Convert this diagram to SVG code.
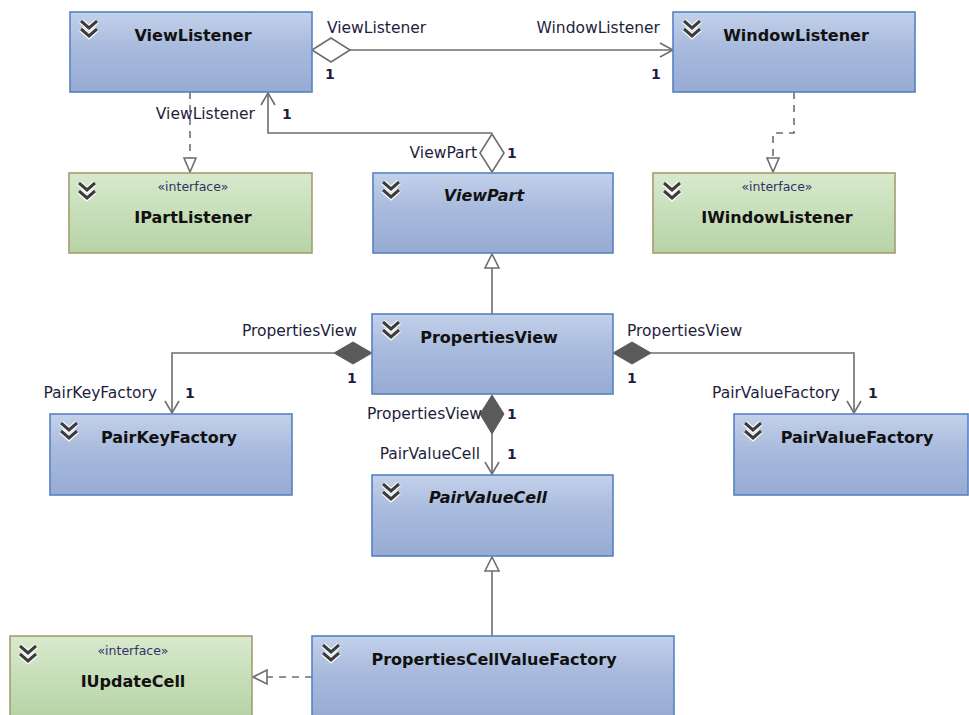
<svg xmlns="http://www.w3.org/2000/svg" width="969" height="715" viewBox="0 0 969 715">
<defs>
<linearGradient id="gBlue" x1="0" y1="0" x2="0" y2="1">
<stop offset="0" stop-color="#c3d1ea"/>
<stop offset="0.45" stop-color="#a8badd"/>
<stop offset="1" stop-color="#97abd3"/>
</linearGradient>
<linearGradient id="gGreen" x1="0" y1="0" x2="0" y2="1">
<stop offset="0" stop-color="#d8eacd"/>
<stop offset="1" stop-color="#b6d3a5"/>
</linearGradient>
<g id="chev">
<path d="M0,0 L8,7 L16,0 M0,8 L8,15 L16,8" fill="none" stroke="#ffffff" stroke-width="5.5"/>
<path d="M0,0 L8,7 L16,0 M0,8 L8,15 L16,8" fill="none" stroke="#3c3c3c" stroke-width="3"/>
</g>
</defs>
<style>
.blue{fill:url(#gBlue);stroke:#5582c2;stroke-width:1.6}
.green{fill:url(#gGreen);stroke:#a39d72;stroke-width:1.6}
.title{font-family:"DejaVu Sans",sans-serif;font-weight:bold;font-size:16px;fill:#111111;text-anchor:middle}
.it{font-style:italic}
.stereo{font-family:"DejaVu Sans",sans-serif;font-size:12.5px;fill:#333366;text-anchor:middle}
.lbl{font-family:"DejaVu Sans",sans-serif;font-size:15.5px;fill:#1e1e3c}
.num{font-family:"DejaVu Sans",sans-serif;font-size:14px;font-weight:bold;fill:#1e1e3c}
.ln{fill:none;stroke:#6e6e6e;stroke-width:1.6}
.dash{fill:none;stroke:#6e6e6e;stroke-width:1.6;stroke-dasharray:7,6}
.hollow{fill:#ffffff;stroke:#6e6e6e;stroke-width:1.6}
.solid{fill:#5a5a5a;stroke:#5a5a5a;stroke-width:1}
</style>
<rect width="969" height="715" fill="#ffffff"/>

<g id="connectors">
<!-- ViewListener - WindowListener -->
<path class="ln" d="M350,50 L673,50"/>
<polygon class="hollow" points="312,50 331,38 350,50 331,62"/>
<path class="ln" d="M660,43 L673,50 L660,57"/>
<!-- ViewListener realizes IPartListener -->
<path class="dash" d="M190,92 L190,158"/>
<polygon class="hollow" points="190,172 184,158 196,158"/>
<!-- ViewPart -> ViewListener -->
<path class="ln" d="M492,133 L268,133 L268,93"/>
<path class="ln" d="M261,105 L268,93 L275,105"/>
<polygon class="hollow" points="492,134 504,153 492,172 480,153"/>
<!-- WindowListener realizes IWindowListener -->
<path class="dash" d="M794,92 L794,133 L773,133 L773,158"/>
<polygon class="hollow" points="773,172 767,158 779,158"/>
<!-- PropertiesView -> ViewPart generalization -->
<path class="ln" d="M492,314 L492,268"/>
<polygon class="hollow" points="492,254 485,268 499,268"/>
<!-- PropertiesView -> PairKeyFactory -->
<path class="ln" d="M334,353 L172,353 L172,413"/>
<polygon class="solid" points="372,353 353,342 334,353 353,364"/>
<path class="ln" d="M165,401 L172,413 L179,401"/>
<!-- PropertiesView -> PairValueFactory -->
<path class="ln" d="M651,353 L854,353 L854,413"/>
<polygon class="solid" points="613,353 632,342 651,353 632,364"/>
<path class="ln" d="M847,401 L854,413 L861,401"/>
<!-- PropertiesView -> PairValueCell -->
<path class="ln" d="M492,434 L492,474"/>
<polygon class="solid" points="492,395 504,414 492,434 480,414"/>
<path class="ln" d="M485,462 L492,474 L499,462"/>
<!-- PropertiesCellValueFactory -> PairValueCell generalization -->
<path class="ln" d="M492,636 L492,571"/>
<polygon class="hollow" points="492,557 485,571 499,571"/>
<!-- PropertiesCellValueFactory realizes IUpdateCell -->
<path class="dash" d="M312,677 L267,677"/>
<polygon class="hollow" points="253,677 267,670 267,684"/>

<!-- labels -->
<text class="lbl" x="327" y="33">ViewListener</text>
<text class="num" x="325" y="79">1</text>
<text class="lbl" x="660" y="33" text-anchor="end">WindowListener</text>
<text class="num" x="651" y="79">1</text>
<text class="lbl" x="255" y="119" text-anchor="end">ViewListener</text>
<text class="num" x="282" y="119">1</text>
<text class="lbl" x="477" y="158" text-anchor="end">ViewPart</text>
<text class="num" x="507" y="158">1</text>
<text class="lbl" x="357" y="336" text-anchor="end">PropertiesView</text>
<text class="num" x="347" y="383">1</text>
<text class="lbl" x="157" y="398" text-anchor="end">PairKeyFactory</text>
<text class="num" x="185" y="398">1</text>
<text class="lbl" x="627" y="336">PropertiesView</text>
<text class="num" x="627" y="383">1</text>
<text class="lbl" x="840" y="398" text-anchor="end">PairValueFactory</text>
<text class="num" x="868" y="398">1</text>
<text class="lbl" x="482" y="419" text-anchor="end">PropertiesView</text>
<text class="num" x="507" y="419">1</text>
<text class="lbl" x="480" y="459" text-anchor="end">PairValueCell</text>
<text class="num" x="507" y="459">1</text>
</g>

<g id="ViewListener">
<rect class="blue" x="70" y="12" width="242" height="80"/>
<use href="#chev" x="81" y="21"/>
<text class="title" x="193" y="41">ViewListener</text>
</g>
<g id="WindowListener">
<rect class="blue" x="673" y="12" width="242" height="80"/>
<use href="#chev" x="684" y="21"/>
<text class="title" x="796" y="41">WindowListener</text>
</g>
<g id="IPartListener">
<rect class="green" x="69" y="173" width="243" height="80"/>
<use href="#chev" x="79" y="183"/>
<text class="stereo" x="193" y="191">«interface»</text>
<text class="title" x="193" y="223">IPartListener</text>
</g>
<g id="ViewPart">
<rect class="blue" x="373" y="173" width="240" height="80"/>
<use href="#chev" x="383" y="182"/>
<text class="title it" x="484" y="201">ViewPart</text>
</g>
<g id="IWindowListener">
<rect class="green" x="653" y="173" width="242" height="80"/>
<use href="#chev" x="664" y="183"/>
<text class="stereo" x="777" y="191">«interface»</text>
<text class="title" x="777" y="223">IWindowListener</text>
</g>
<g id="PropertiesView">
<rect class="blue" x="372" y="314" width="241" height="80"/>
<use href="#chev" x="383" y="322"/>
<text class="title" x="489" y="343">PropertiesView</text>
</g>
<g id="PairKeyFactory">
<rect class="blue" x="50" y="414" width="242" height="81"/>
<use href="#chev" x="61" y="423"/>
<text class="title" x="169" y="443">PairKeyFactory</text>
</g>
<g id="PairValueFactory">
<rect class="blue" x="734" y="414" width="234" height="81"/>
<use href="#chev" x="745" y="423"/>
<text class="title" x="857" y="443">PairValueFactory</text>
</g>
<g id="PairValueCell">
<rect class="blue" x="372" y="475" width="241" height="81"/>
<use href="#chev" x="383" y="484"/>
<text class="title it" x="488" y="503">PairValueCell</text>
</g>
<g id="IUpdateCell">
<rect class="green" x="10" y="636" width="242" height="82"/>
<use href="#chev" x="20" y="646"/>
<text class="stereo" x="133" y="655">«interface»</text>
<text class="title" x="133" y="687">IUpdateCell</text>
</g>
<g id="PropertiesCellValueFactory">
<rect class="blue" x="312" y="636" width="362" height="82"/>
<use href="#chev" x="323" y="645"/>
<text class="title" x="494" y="665">PropertiesCellValueFactory</text>
</g>
</svg>
